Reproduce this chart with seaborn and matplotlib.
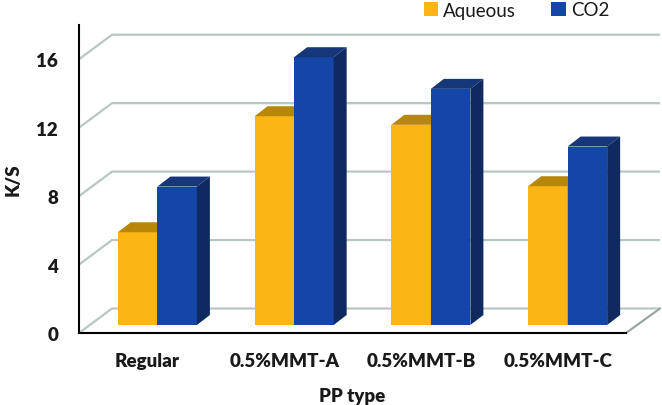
import numpy as np
import pandas as pd
import matplotlib
matplotlib.use("Agg")
import matplotlib.pyplot as plt
import seaborn as sns
from matplotlib.patches import Polygon, Patch
from matplotlib.transforms import ScaledTranslation

# ---- data ----
categories = ["Regular", "0.5%MMT-A", "0.5%MMT-B", "0.5%MMT-C"]
series_names = ["Aqueous", "CO2"]
aqueous = [5.42, 12.2, 11.7, 8.11]
co2 = [8.09, 15.65, 13.8, 10.43]
y_ticks = [0, 4, 8, 12, 16]

df = pd.DataFrame({
    "PP type": categories * 2,
    "K/S": aqueous + co2,
    "Medium": [series_names[0]] * 4 + [series_names[1]] * 4,
})

# ---- style ----
sns.set_style("white")
plt.rcParams["font.family"] = ["Lato", "DejaVu Sans"]

front_cols = ["#FBB614", "#1446A8"]
top_cols = ["#B8870A", "#16377A"]
side_cols = ["#9A7008", "#0E2A5E"]
grid_col = "#B7C8C4"
txt_col = "#1a1a1a"

W, H = 662, 406
fig = plt.figure(figsize=(W / 100, H / 100), dpi=100)
ax = fig.add_axes([79 / W, (H - 334) / H, 547 / W, 308 / H])
ax.set_xlim(-0.5, 3.5)
ax.set_ylim(0, 18)

sns.barplot(data=df, x="PP type", y="K/S", hue="Medium", order=categories,
            hue_order=series_names, palette=front_cols, width=0.578,
            saturation=1, legend=False, ax=ax, zorder=3)
ax.set_xlim(-0.5, 3.5)
ax.set_ylim(0, 18)


def pt(x, y, px=0.0, py=0.0):
    d = ax.transData.transform((x, y))
    return ax.transData.inverted().transform((d[0] + px, d[1] + py))


# back wall & side wall & floor
BX, BY = 33, 24.5
x_left, x_right = -0.5, 3.5
right_px_end = 660 - 626
for t in y_ticks:
    a = pt(x_left, t)
    b = pt(x_left, t, BX, BY)
    c = pt(x_right, t, right_px_end, BY)
    ax.plot([a[0], b[0], c[0]], [a[1], b[1], c[1]], color=grid_col, lw=1.6,
            clip_on=False, zorder=1, solid_capstyle="butt")
a = pt(x_right, 0)
b = pt(x_right, 0, right_px_end, BY)
ax.plot([a[0], b[0]], [a[1], b[1]], color="#9AA8A5", lw=1.6, clip_on=False, zorder=1)

# 3D bars
FX, FY = 10, 8
DX, DY = 13, 10
for si, cont in enumerate(ax.containers):
    for rect in cont.patches:
        x0 = rect.get_x()
        w = rect.get_width()
        h = rect.get_height()
        rect.set_transform(ax.transData + ScaledTranslation(FX / 100, FY / 100, fig.dpi_scale_trans))
        rect.set_zorder(3 + si)
        rect.set_clip_on(False)
        rect.set_edgecolor("none")
        top = [pt(x0, h, FX, FY), pt(x0 + w, h, FX, FY),
               pt(x0 + w, h, FX + DX, FY + DY), pt(x0, h, FX + DX, FY + DY)]
        side = [pt(x0 + w, 0, FX, FY), pt(x0 + w, h, FX, FY),
                pt(x0 + w, h, FX + DX, FY + DY), pt(x0 + w, 0, FX + DX, FY + DY)]
        ax.add_patch(Polygon(top, closed=True, facecolor=top_cols[si], edgecolor="none",
                             zorder=3 + si, clip_on=False))
        ax.add_patch(Polygon(side, closed=True, facecolor=side_cols[si], edgecolor="none",
                             zorder=3 + si, clip_on=False))

# axes styling
for s in ["top", "right"]:
    ax.spines[s].set_visible(False)
for s in ["left", "bottom"]:
    ax.spines[s].set_color("black")
    ax.spines[s].set_linewidth(1.5)
    ax.spines[s].set_zorder(6)

ax.set_yticks(y_ticks)
ax.set_yticklabels([str(t) for t in y_ticks], fontsize=13.5, fontweight="heavy", color=txt_col)
ax.tick_params(axis="y", direction="out", length=6, width=1.5, color="black", pad=9)

ax.set_xticks(range(len(categories)))
ax.set_xticklabels(categories, fontsize=13.5, fontweight="heavy", color=txt_col)
ax.set_xticks([-0.5, 0.5, 1.5, 2.5, 3.5], minor=True)
ax.tick_params(axis="x", which="major", length=0, pad=14)
ax.tick_params(axis="x", which="minor", direction="out", length=6, width=1.5, color="black")

ax.set_xlabel("PP type", fontsize=13.5, fontweight="heavy", color=txt_col, labelpad=13)
ax.set_ylabel("K/S", fontsize=13.5, fontweight="heavy", color=txt_col, labelpad=11)
ax.grid(False)

handles = [Patch(facecolor=front_cols[i], edgecolor="none", label=series_names[i]) for i in range(2)]
leg = fig.legend(handles=handles, loc="upper left", bbox_to_anchor=(416 / W, 1.0 + 5 / H), ncol=2,
                 frameon=False, fontsize=13.5, handlelength=0.78, handleheight=0.78,
                 handletextpad=0.25, columnspacing=1.9, borderaxespad=0)
for t in leg.get_texts():
    t.set_color(txt_col)

fig.savefig("out.png", dpi=100)
